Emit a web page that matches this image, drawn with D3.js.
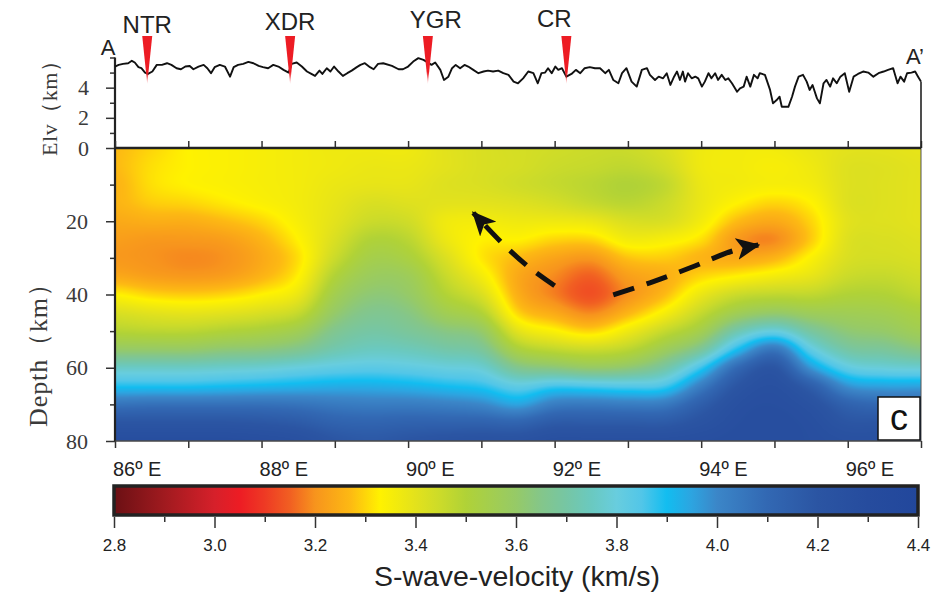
<!DOCTYPE html>
<html>
<head>
<meta charset="utf-8">
<script src="https://cdn.jsdelivr.net/npm/d3@7/dist/d3.min.js"></script>
<style>
  html, body { margin: 0; padding: 0; background: #fff; }
  svg { display: block; }
</style>
</head>
<body>
<svg id="chart" width="947" height="592"></svg>
<script>
// ---------- data ----------
// Longitude nodes (°E) and depth nodes (km) of the S-wave velocity section
const lonNodes = [86, 86.5, 87, 87.5, 88, 88.5, 89, 89.5, 90, 90.5, 91, 91.5,
                  92, 92.5, 93, 93.5, 94, 94.5, 95, 95.5, 96, 96.5, 97];
const depthNodes = [0, 5, 10, 15, 20, 25, 30, 35, 40, 45, 50, 55, 60, 65, 70, 75, 80];

// Vs (km/s): one column per longitude node, top (0 km) to bottom (80 km)
const vsByLon = [
  [3.27,3.27,3.26,3.26,3.24,3.22,3.21,3.24,3.33,3.42,3.49,3.60,3.76,3.89,4.06,4.20,4.28], // 86
  [3.30,3.31,3.31,3.29,3.25,3.21,3.20,3.22,3.30,3.40,3.48,3.60,3.76,3.89,4.07,4.20,4.28], // 86.5
  [3.33,3.33,3.33,3.30,3.25,3.21,3.19,3.21,3.29,3.39,3.48,3.60,3.76,3.89,4.07,4.20,4.28], // 87
  [3.34,3.34,3.34,3.32,3.27,3.22,3.20,3.22,3.30,3.40,3.50,3.62,3.77,3.90,4.07,4.20,4.28], // 87.5
  [3.35,3.35,3.35,3.34,3.30,3.26,3.24,3.26,3.33,3.42,3.52,3.63,3.78,3.91,4.07,4.19,4.27], // 88
  [3.36,3.36,3.36,3.36,3.35,3.33,3.31,3.33,3.38,3.46,3.56,3.66,3.80,3.92,4.06,4.17,4.25], // 88.5
  [3.37,3.37,3.38,3.39,3.40,3.42,3.45,3.50,3.55,3.60,3.66,3.72,3.82,3.93,4.04,4.13,4.20], // 89
  [3.37,3.38,3.39,3.42,3.45,3.50,3.54,3.58,3.62,3.66,3.70,3.75,3.83,3.93,4.03,4.12,4.18], // 89.5
  [3.37,3.38,3.39,3.41,3.44,3.48,3.52,3.57,3.60,3.64,3.68,3.74,3.82,3.92,4.03,4.13,4.20], // 90
  [3.40,3.40,3.41,3.40,3.37,3.38,3.42,3.46,3.50,3.56,3.64,3.71,3.80,3.90,4.02,4.13,4.22], // 90.5
  [3.42,3.42,3.42,3.40,3.36,3.33,3.32,3.36,3.42,3.50,3.60,3.68,3.78,3.88,4.00,4.13,4.23], // 91
  [3.43,3.43,3.44,3.41,3.37,3.33,3.27,3.24,3.25,3.30,3.40,3.52,3.66,3.82,3.95,4.12,4.23], // 91.5
  [3.44,3.45,3.46,3.43,3.37,3.30,3.23,3.19,3.18,3.24,3.34,3.47,3.63,3.86,4.03,4.17,4.26], // 92
  [3.45,3.46,3.48,3.46,3.38,3.30,3.21,3.15,3.13,3.19,3.30,3.45,3.60,3.85,4.04,4.17,4.26], // 92.5
  [3.45,3.47,3.50,3.48,3.42,3.36,3.28,3.22,3.20,3.26,3.37,3.48,3.62,3.84,4.03,4.17,4.26], // 93
  [3.42,3.44,3.47,3.45,3.42,3.35,3.29,3.25,3.27,3.35,3.46,3.57,3.70,3.86,4.04,4.17,4.26], // 93.5
  [3.37,3.37,3.38,3.38,3.36,3.31,3.26,3.30,3.38,3.46,3.55,3.68,3.87,4.03,4.15,4.22,4.27], // 94
  [3.36,3.36,3.36,3.33,3.27,3.21,3.24,3.33,3.45,3.56,3.72,3.90,4.10,4.20,4.25,4.27,4.28], // 94.5
  [3.36,3.35,3.35,3.30,3.24,3.19,3.26,3.36,3.47,3.60,3.80,4.05,4.20,4.25,4.27,4.28,4.28], // 95
  [3.38,3.37,3.36,3.33,3.30,3.29,3.34,3.39,3.47,3.57,3.69,3.82,3.97,4.15,4.23,4.26,4.27], // 95.5
  [3.40,3.41,3.41,3.41,3.40,3.41,3.42,3.45,3.50,3.56,3.62,3.70,3.82,3.98,4.13,4.20,4.25], // 96
  [3.40,3.41,3.41,3.41,3.41,3.42,3.43,3.46,3.50,3.55,3.60,3.68,3.79,3.95,4.10,4.20,4.25], // 96.5
  [3.39,3.40,3.40,3.40,3.40,3.41,3.42,3.44,3.47,3.52,3.56,3.64,3.78,3.95,4.10,4.20,4.25]  // 97
];

// Surface elevation along A–A'
const profLon = [
  86.00,86.05,86.11,86.18,86.23,86.27,86.32,86.36,86.41,86.45,86.51,86.57,86.64,86.71,86.77,86.84,
  86.90,86.96,87.02,87.07,87.14,87.21,87.26,87.31,87.36,87.43,87.50,87.57,87.62,87.68,87.75,87.82,
  87.89,87.96,88.02,88.09,88.16,88.23,88.30,88.37,88.41,88.48,88.55,88.62,88.68,88.73,88.79,88.83,
  88.89,88.94,88.99,89.05,89.11,89.17,89.23,89.30,89.35,89.41,89.48,89.53,89.59,89.66,89.78,89.87,
  89.93,90.00,90.07,90.14,90.21,90.25,90.32,90.37,90.44,90.49,90.55,90.60,90.65,90.71,90.77,90.82,
  90.89,90.96,91.03,91.09,91.16,91.23,91.30,91.37,91.44,91.50,91.57,91.64,91.71,91.77,91.82,91.87,
  91.91,91.96,92.01,92.05,92.10,92.16,92.23,92.29,92.35,92.41,92.48,92.55,92.62,92.69,92.74,92.80,
  92.87,92.92,92.98,93.05,93.12,93.19,93.26,93.30,93.37,93.42,93.48,93.53,93.58,93.63,93.67,93.71,
  93.75,93.78,93.82,93.87,93.92,93.96,94.01,94.05,94.10,94.14,94.19,94.23,94.28,94.33,94.37,94.42,
  94.49,94.53,94.58,94.62,94.67,94.72,94.77,94.80,94.87,94.94,94.98,95.03,95.07,95.10,95.14,95.19,
  95.24,95.28,95.33,95.39,95.44,95.48,95.52,95.58,95.62,95.67,95.71,95.76,95.80,95.85,95.90,95.96,
  96.02,96.08,96.14,96.21,96.28,96.35,96.42,96.49,96.55,96.62,96.68,96.72,96.77,96.81,96.87,96.92,
  96.96,97.00
];
const profElv = [
  5.40,5.51,5.58,5.62,5.78,5.67,5.36,5.29,5.00,4.91,5.07,5.51,5.51,5.62,5.51,5.29,
  5.22,5.40,5.44,5.22,5.40,5.51,5.29,4.96,5.36,5.51,5.40,4.73,5.36,5.51,5.58,5.71,
  5.62,5.44,5.36,5.29,5.51,5.40,5.18,5.00,5.58,5.67,5.40,5.07,4.91,4.78,5.13,4.91,
  5.29,5.07,5.40,5.07,4.78,4.96,5.13,5.36,5.51,5.62,5.36,5.22,5.58,5.62,5.44,5.22,
  5.22,5.40,5.73,5.96,5.84,5.73,5.51,5.67,5.18,4.51,4.73,5.29,5.51,5.29,5.51,5.40,
  5.18,4.96,5.07,5.13,5.07,5.13,4.96,4.85,4.40,4.29,4.62,5.07,4.96,4.29,4.96,5.00,
  5.29,4.96,5.40,5.18,5.29,4.73,4.91,5.18,4.96,5.29,5.36,5.29,5.29,4.96,5.18,4.51,
  4.29,4.96,5.29,4.40,4.07,5.18,5.29,4.85,4.51,4.73,4.62,4.96,4.18,4.73,5.07,4.51,
  5.07,4.40,4.96,4.62,4.73,4.62,4.07,4.40,4.96,4.62,4.96,4.51,4.85,4.51,4.62,4.29,
  3.73,3.96,4.07,4.73,4.07,4.85,4.62,4.96,4.85,3.85,2.96,3.18,3.40,2.73,2.73,2.73,
  3.40,4.07,4.73,4.85,4.40,3.85,4.18,3.29,2.96,4.29,4.51,4.07,4.62,4.29,4.73,4.96,
  3.73,4.73,4.91,5.07,5.00,4.73,4.96,5.07,5.18,5.29,4.29,4.73,4.40,4.96,5.00,5.07,
  4.73,4.40
];

// Geological boundaries marked on the profile
const boundaryNames = ["NTR", "XDR", "YGR", "CR"];
const boundaryLon = [86.44, 88.39, 90.27, 92.16];

// Arrows drawn on the section (lon °E, depth km)
const arrowWest = [[92.00, 37.6], [91.66, 32.7], [91.32, 26.7], [90.89, 17.7]];
const arrowEast = [[92.80, 40.1], [93.30, 36.8], [93.85, 32.7], [94.43, 28.1], [94.78, 26.5]];

// Colour table (Vs km/s -> colour)
const cptValues = [2.8, 2.9, 3.0, 3.05, 3.1, 3.15, 3.2, 3.27, 3.33, 3.4, 3.45, 3.5, 3.55, 3.6,
                   3.65, 3.7, 3.75, 3.8, 3.85, 3.9, 3.95, 4.0, 4.1, 4.2, 4.3, 4.4];
const cptColors = ["#6b1014", "#a01a1f", "#d6202a", "#ed1c24", "#ee3a24", "#f15f22", "#f7941d",
                   "#fdb913", "#fff200", "#e3e21c", "#cbdb2a", "#b0d237", "#a3ce4f", "#96ca67",
                   "#84c68a", "#76c6a4", "#6ac9c0", "#68cdde", "#52c6e8", "#12bdf0", "#2da4e0",
                   "#3b86c8", "#3268b3", "#2b55a3", "#264c9e", "#22479c"];

// Tick values
const lonTicks = [86, 87, 88, 89, 90, 91, 92, 93, 94, 95, 96, 97];
const lonLabels = [86, 88, 90, 92, 94, 96];
const depthMajor = [20, 40, 60, 80];
const depthMinor = [10, 30, 50, 70];
const elvMajor = [0, 2, 4];
const elvMinor = [1, 3, 5, 6];
const vsMajor = [2.8, 3.0, 3.2, 3.4, 3.6, 3.8, 4.0, 4.2, 4.4];
const vsMinor = [2.9, 3.1, 3.3, 3.5, 3.7, 3.9, 4.1, 4.3];

// ---------- layout ----------
const SANS = "'Liberation Sans', Arial, Helvetica, sans-serif";
const SERIF = "'Liberation Serif', 'Times New Roman', serif";
const svg = d3.select("#chart");

const x = d3.scaleLinear().domain([86, 97]).range([115, 921]);
const yElv = d3.scaleLinear().domain([0, 6]).range([148, 57.5]);
const yDep = d3.scaleLinear().domain([0, 80]).range([148, 441]);
const vsX = d3.scaleLinear().domain([2.8, 4.4]).range([114, 918]);
const colour = d3.scaleLinear().domain(cptValues).range(cptColors)
  .interpolate(d3.interpolateRgb).clamp(true);

// ---------- velocity section (bicubic-smoothed grid painted on a canvas) ----------
function cr(p0, p1, p2, p3, t) {
  return p1 + 0.5 * t * (p2 - p0 + t * (2 * p0 - 5 * p1 + 4 * p2 - p3 + t * (3 * (p1 - p2) + p3 - p0)));
}
function gridAt(i, j) {
  i = Math.max(0, Math.min(lonNodes.length - 1, i));
  j = Math.max(0, Math.min(depthNodes.length - 1, j));
  return vsByLon[i][j];
}
function vsAt(lon, dep) {
  const fi = (lon - lonNodes[0]) / (lonNodes[1] - lonNodes[0]);
  const fj = (dep - depthNodes[0]) / (depthNodes[1] - depthNodes[0]);
  const i = Math.floor(fi), j = Math.floor(fj);
  const ti = fi - i, tj = fj - j;
  const cols = [];
  for (let a = -1; a <= 2; a++) {
    cols.push(cr(gridAt(i + a, j - 1), gridAt(i + a, j), gridAt(i + a, j + 1), gridAt(i + a, j + 2), tj));
  }
  return cr(cols[0], cols[1], cols[2], cols[3], ti);
}

const hx0 = x(86), hx1 = x(97), hy0 = yDep(0), hy1 = yDep(80);
const cw = Math.round(hx1 - hx0), ch = Math.round(hy1 - hy0);
const canvas = document.createElement("canvas");
canvas.width = cw; canvas.height = ch;
const ctx = canvas.getContext("2d");
const img = ctx.createImageData(cw, ch);
for (let py = 0; py < ch; py++) {
  const dep = yDep.invert(hy0 + py + 0.5);
  for (let px = 0; px < cw; px++) {
    const lon = x.invert(hx0 + px + 0.5);
    const c = d3.rgb(colour(vsAt(lon, dep)));
    const k = (py * cw + px) * 4;
    img.data[k] = c.r; img.data[k + 1] = c.g; img.data[k + 2] = c.b; img.data[k + 3] = 255;
  }
}
ctx.putImageData(img, 0, 0);
svg.append("image")
  .attr("x", hx0).attr("y", hy0).attr("width", cw).attr("height", ch)
  .attr("preserveAspectRatio", "none")
  .attr("href", canvas.toDataURL());

// section frame (thin right and bottom edges)
svg.append("rect").attr("x", hx0).attr("y", hy0).attr("width", hx1 - hx0).attr("height", hy1 - hy0)
  .attr("fill", "none").attr("stroke", "#555").attr("stroke-width", 1);

// ---------- arrows ----------
const defs = svg.append("defs");
defs.append("marker").attr("id", "head")
  .attr("markerUnits", "userSpaceOnUse")
  .attr("viewBox", "0 0 24 22").attr("refX", 22).attr("refY", 11)
  .attr("markerWidth", 24).attr("markerHeight", 22).attr("orient", "auto")
  .append("path").attr("d", "M0,0 L24,11 L0,22 L6,11 Z").attr("fill", "#111");

const arrowLine = d3.line().x(d => x(d[0])).y(d => yDep(d[1])).curve(d3.curveCatmullRom.alpha(0.5));
[arrowWest, arrowEast].forEach(pts => {
  svg.append("path").attr("d", arrowLine(pts))
    .attr("fill", "none").attr("stroke", "#111").attr("stroke-width", 5)
    .attr("stroke-dasharray", "22,13").attr("marker-end", "url(#head)");
});

// ---------- panel label box ----------
svg.append("rect").attr("x", 878).attr("y", 397).attr("width", 42).attr("height", 43)
  .attr("fill", "#fff").attr("stroke", "#111").attr("stroke-width", 1.5);
svg.append("text").attr("x", 899).attr("y", 430).attr("text-anchor", "middle")
  .attr("font-family", SANS).attr("font-size", 36).attr("fill", "#111").text("c");

// ---------- axes of the section ----------
function styleAxis(g, fontFamily, fontSize) {
  g.select(".domain").remove();
  g.selectAll(".tick line").attr("stroke", "#333").attr("stroke-width", 1.5);
  g.selectAll(".tick text").attr("font-family", fontFamily).attr("font-size", fontSize).attr("fill", "#3a3a3a");
}

// depth axis
svg.append("g").attr("transform", `translate(${hx0},0)`)
  .call(d3.axisLeft(yDep).tickValues(depthMajor).tickSize(9).tickPadding(18).tickFormat(d3.format("d")))
  .call(g => styleAxis(g, SERIF, 22));
svg.append("g").attr("transform", `translate(${hx0},0)`)
  .call(d3.axisLeft(yDep).tickValues(depthMinor).tickSize(5).tickFormat(""))
  .call(g => styleAxis(g, SERIF, 22));

// elevation axis
svg.append("g").attr("transform", `translate(${hx0},0)`)
  .call(d3.axisLeft(yElv).tickValues(elvMajor).tickSize(9).tickPadding(17).tickFormat(d3.format("d")))
  .call(g => styleAxis(g, SERIF, 22));
svg.append("g").attr("transform", `translate(${hx0},0)`)
  .call(d3.axisLeft(yElv).tickValues(elvMinor).tickSize(5).tickFormat(""))
  .call(g => styleAxis(g, SERIF, 22));

// left spine through both panels
svg.append("line").attr("x1", hx0).attr("x2", hx0).attr("y1", yElv(6)).attr("y2", hy1)
  .attr("stroke", "#222").attr("stroke-width", 2.2);

// top edge of section with upward ticks
svg.append("g").attr("transform", `translate(0,${hy0})`)
  .call(d3.axisTop(x).tickValues(lonTicks).tickSize(7).tickFormat(""))
  .call(g => styleAxis(g, SANS, 20));
svg.append("line").attr("x1", hx0).attr("x2", hx1).attr("y1", hy0).attr("y2", hy0)
  .attr("stroke", "#222").attr("stroke-width", 2.5);

// bottom axis
svg.append("g").attr("transform", `translate(0,${hy1})`)
  .call(d3.axisBottom(x).tickValues(lonTicks).tickSize(7).tickFormat(""))
  .call(g => styleAxis(g, SANS, 20));
svg.append("line").attr("x1", hx0).attr("x2", hx1).attr("y1", hy1).attr("y2", hy1)
  .attr("stroke", "#444").attr("stroke-width", 1.2);
svg.append("g").selectAll("text").data(lonLabels).join("text")
  .attr("x", d => x(d) - 2).attr("y", 476)
  .attr("font-family", SANS).attr("font-size", 20).attr("fill", "#222")
  .text(d => `${d}º E`);

// axis titles
svg.append("text")
  .attr("transform", "translate(57,103) rotate(-90)")
  .attr("text-anchor", "middle").attr("font-family", SERIF).attr("font-size", 22)
  .attr("fill", "#3a3a3a").attr("textLength", 106).attr("lengthAdjust", "spacing")
  .text("Elv（km）");
svg.append("text")
  .attr("transform", "translate(47,349) rotate(-90)")
  .attr("text-anchor", "middle").attr("font-family", SERIF).attr("font-size", 26)
  .attr("fill", "#3a3a3a").attr("textLength", 156).attr("lengthAdjust", "spacing")
  .text("Depth（km）");

// ---------- elevation profile ----------
const prof = profLon.map((d, i) => [d, profElv[i]]);
svg.append("path")
  .attr("d", d3.line().x(d => x(d[0])).y(d => yElv(d[1]))(prof))
  .attr("fill", "none").attr("stroke", "#111").attr("stroke-width", 1.9)
  .attr("stroke-linejoin", "round");
svg.append("line").attr("x1", x(97)).attr("x2", x(97))
  .attr("y1", yElv(profElv[profElv.length - 1])).attr("y2", hy0)
  .attr("stroke", "#222").attr("stroke-width", 1.6);

// ---------- boundary markers ----------
const grad = defs.append("linearGradient").attr("id", "tri").attr("x1", 0).attr("y1", 0).attr("x2", 0).attr("y2", 1);
grad.append("stop").attr("offset", 0).attr("stop-color", "#ed1c24").attr("stop-opacity", 1);
grad.append("stop").attr("offset", 0.75).attr("stop-color", "#ed1c24").attr("stop-opacity", 1);
grad.append("stop").attr("offset", 1).attr("stop-color", "#ed1c24").attr("stop-opacity", 0.15);

const labelShift = { NTR: 0, XDR: 0, YGR: 8, CR: -12 };
const labelBase = { NTR: 33, XDR: 30, YGR: 28, CR: 27 };
boundaryNames.forEach((name, i) => {
  const cx = x(boundaryLon[i]);
  svg.append("path")
    .attr("d", `M${cx - 5},36 L${cx + 5},36 L${cx},84 Z`)
    .attr("fill", "url(#tri)");
  svg.append("text").attr("x", cx + labelShift[name]).attr("y", labelBase[name])
    .attr("text-anchor", "middle").attr("font-family", SANS).attr("font-size", 24)
    .attr("fill", "#222").text(name);
});

// profile end labels
svg.append("text").attr("x", 108).attr("y", 55).attr("text-anchor", "middle")
  .attr("font-family", SANS).attr("font-size", 22).attr("fill", "#222").text("A");
svg.append("text").attr("x", 924).attr("y", 64).attr("text-anchor", "end")
  .attr("font-family", SANS).attr("font-size", 22).attr("fill", "#222").text("A’");

// ---------- colour bar ----------
const cb = defs.append("linearGradient").attr("id", "cbar").attr("x1", 0).attr("x2", 1).attr("y1", 0).attr("y2", 0);
cptValues.forEach((v, i) => {
  cb.append("stop").attr("offset", (v - 2.8) / 1.6).attr("stop-color", cptColors[i]);
});
svg.append("rect").attr("x", vsX(2.8)).attr("y", 486).attr("width", vsX(4.4) - vsX(2.8)).attr("height", 29)
  .attr("fill", "url(#cbar)").attr("stroke", "#222").attr("stroke-width", 3.5);

svg.append("g").attr("transform", "translate(0,517)")
  .call(d3.axisBottom(vsX).tickValues(vsMajor).tickSize(11).tickPadding(11).tickFormat(d3.format(".1f")))
  .call(g => styleAxis(g, SANS, 17))
  .call(g => g.selectAll(".tick text").attr("fill", "#222"));
svg.append("g").attr("transform", "translate(0,517)")
  .call(d3.axisBottom(vsX).tickValues(vsMinor).tickSize(5).tickFormat(""))
  .call(g => styleAxis(g, SANS, 17));

svg.append("text").attr("x", 517).attr("y", 586).attr("text-anchor", "middle")
  .attr("font-family", SANS).attr("font-size", 28).attr("fill", "#222")
  .attr("textLength", 286).attr("lengthAdjust", "spacingAndGlyphs")
  .text("S-wave-velocity (km/s)");
</script>
</body>
</html>
